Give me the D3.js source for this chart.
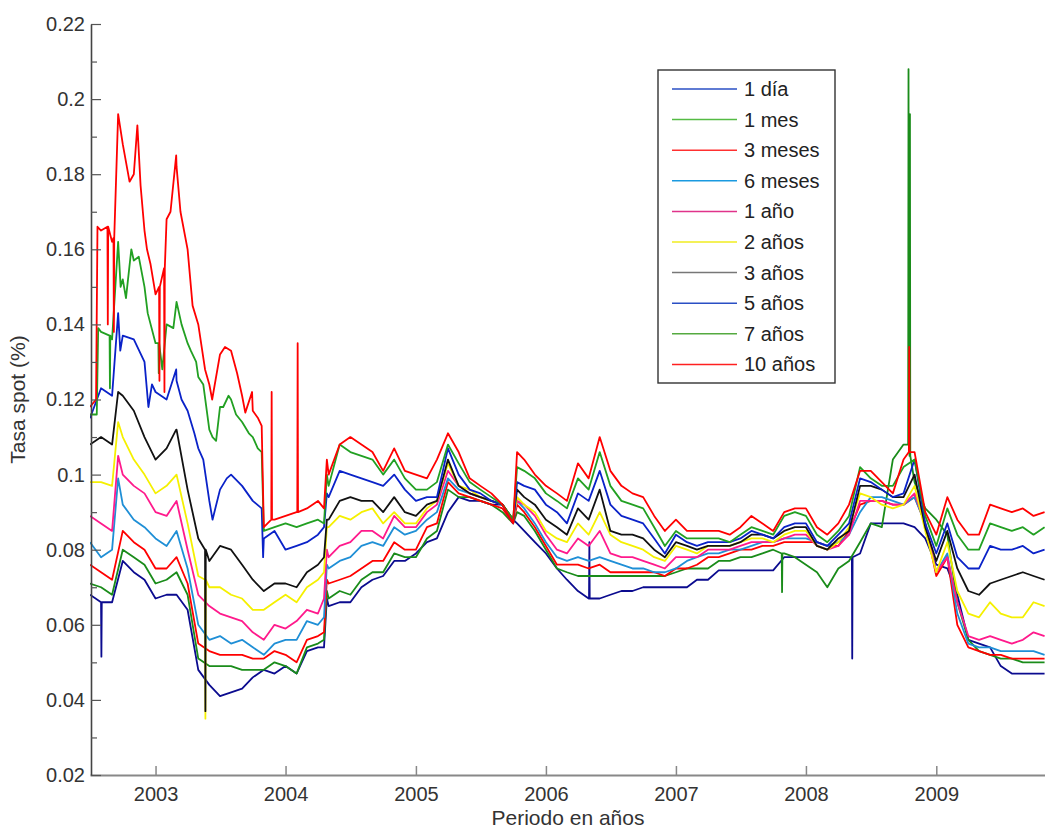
<!DOCTYPE html>
<html lang="es">
<head>
  <meta charset="UTF-8">
  <title>Tasa spot por plazo</title>
  <script src="https://cdnjs.cloudflare.com/ajax/libs/d3/7.8.5/d3.min.js"></script>
  <style>
    body { margin: 0; background: #fff; }
    svg { font-family: "Liberation Sans", Arial, sans-serif; }
    .serie { fill: none; stroke-width: 1.8; stroke-linejoin: round; }
    .axis text { fill: #333; font-size: 20px; }
    .titulo { fill: #333; font-size: 21px; }
    .leyenda text { fill: #222; font-size: 20px; }
  </style>
</head>
<body>
<script>
  // fechas (inicio de cada mes)
  const meses = [
    "2002-07","2002-08","2002-09","2002-10","2002-11","2002-12",
    "2003-01","2003-02","2003-03","2003-04","2003-05","2003-06","2003-07","2003-08","2003-09","2003-10","2003-11","2003-12",
    "2004-01","2004-02","2004-03","2004-04","2004-05","2004-06","2004-07","2004-08","2004-09","2004-10","2004-11","2004-12",
    "2005-01","2005-02","2005-03","2005-04","2005-05","2005-06","2005-07","2005-08","2005-09","2005-10","2005-11","2005-12",
    "2006-01","2006-02","2006-03","2006-04","2006-05","2006-06","2006-07","2006-08","2006-09","2006-10","2006-11","2006-12",
    "2007-01","2007-02","2007-03","2007-04","2007-05","2007-06","2007-07","2007-08","2007-09","2007-10","2007-11","2007-12",
    "2008-01","2008-02","2008-03","2008-04","2008-05","2008-06","2008-07","2008-08","2008-09","2008-10","2008-11","2008-12",
    "2009-01","2009-02","2009-03","2009-04","2009-05","2009-06","2009-07","2009-08","2009-09","2009-10","2009-11"
  ];

  const nombres = ["1 día","1 mes","3 meses","6 meses","1 año","2 años","3 años","5 años","7 años","10 años"];

  const dia1 = [
    0.068,0.066,0.066,0.077,0.074,0.072,0.067,0.068,0.068,0.064,
    0.048,0.044,0.041,0.042,0.043,0.046,0.048,0.047,0.049,0.047,
    0.053,0.054,0.065,0.066,0.066,0.070,0.072,0.073,0.077,0.077,
    0.079,0.082,0.083,0.090,0.094,0.093,0.093,0.092,0.092,0.088,
    0.085,0.082,0.079,0.075,0.072,0.069,0.067,0.067,0.068,0.069,
    0.069,0.070,0.070,0.070,0.070,0.070,0.072,0.072,0.0745,0.0745,
    0.0745,0.0745,0.0745,0.0745,0.078,0.078,0.078,0.078,0.078,0.078,
    0.078,0.079,0.087,0.087,0.087,0.087,0.086,0.083,0.076,0.075,
    0.068,0.056,0.055,0.054,0.049,0.047,0.047,0.047,0.047
  ];
  const mes1 = [
    0.071,0.070,0.068,0.080,0.078,0.076,0.071,0.072,0.074,0.068,
    0.051,0.049,0.049,0.049,0.048,0.048,0.048,0.050,0.049,0.047,
    0.054,0.055,0.067,0.069,0.068,0.072,0.074,0.074,0.079,0.078,
    0.078,0.083,0.085,0.096,0.094,0.094,0.093,0.092,0.090,0.087,
    0.089,0.085,0.080,0.075,0.074,0.073,0.073,0.073,0.073,0.073,
    0.073,0.073,0.073,0.073,0.074,0.075,0.075,0.075,0.077,0.077,
    0.078,0.078,0.079,0.080,0.079,0.078,0.076,0.074,0.070,0.075,
    0.077,0.082,0.087,0.086,0.104,0.108,0.098,0.091,0.088,0.084,
    0.066,0.056,0.053,0.052,0.051,0.051,0.050,0.050,0.050
  ];
  const meses3 = [
    0.076,0.074,0.072,0.085,0.082,0.080,0.075,0.075,0.078,0.071,
    0.055,0.053,0.052,0.052,0.052,0.051,0.051,0.053,0.052,0.050,
    0.056,0.057,0.071,0.072,0.073,0.075,0.077,0.077,0.082,0.080,
    0.080,0.086,0.087,0.098,0.095,0.094,0.093,0.092,0.091,0.087,
    0.090,0.086,0.081,0.076,0.076,0.076,0.075,0.076,0.074,0.074,
    0.074,0.074,0.074,0.073,0.075,0.075,0.076,0.078,0.078,0.079,
    0.080,0.080,0.081,0.081,0.082,0.082,0.082,0.082,0.081,0.081,
    0.085,0.092,0.093,0.093,0.092,0.092,0.094,0.087,0.073,0.078,
    0.060,0.054,0.053,0.052,0.052,0.051,0.051,0.051,0.051
  ];
  const meses6 = [
    0.082,0.078,0.080,0.092,0.088,0.086,0.083,0.081,0.085,0.075,
    0.060,0.056,0.057,0.055,0.056,0.054,0.052,0.055,0.056,0.056,
    0.061,0.060,0.075,0.077,0.078,0.081,0.082,0.081,0.086,0.084,
    0.085,0.088,0.090,0.099,0.096,0.095,0.094,0.093,0.092,0.088,
    0.091,0.087,0.082,0.078,0.077,0.078,0.077,0.078,0.077,0.076,
    0.075,0.075,0.074,0.074,0.075,0.077,0.078,0.079,0.079,0.080,
    0.080,0.081,0.082,0.082,0.083,0.083,0.083,0.082,0.081,0.082,
    0.084,0.090,0.094,0.094,0.093,0.092,0.094,0.087,0.074,0.079,
    0.063,0.055,0.054,0.054,0.053,0.053,0.053,0.053,0.052
  ];
  const anio1 = [
    0.089,0.087,0.085,0.100,0.097,0.095,0.090,0.089,0.093,0.080,
    0.068,0.065,0.063,0.062,0.061,0.058,0.056,0.060,0.059,0.061,
    0.064,0.063,0.078,0.081,0.082,0.085,0.085,0.083,0.089,0.086,
    0.086,0.090,0.092,0.101,0.097,0.095,0.094,0.093,0.092,0.088,
    0.092,0.089,0.084,0.080,0.079,0.083,0.081,0.085,0.079,0.078,
    0.078,0.077,0.076,0.075,0.078,0.078,0.078,0.080,0.080,0.080,
    0.081,0.082,0.082,0.082,0.083,0.084,0.084,0.081,0.080,0.081,
    0.084,0.093,0.093,0.093,0.092,0.092,0.095,0.087,0.074,0.078,
    0.066,0.057,0.056,0.057,0.056,0.055,0.056,0.058,0.057
  ];
  const anios2 = [
    0.098,0.098,0.097,0.110,0.104,0.100,0.095,0.097,0.100,0.087,
    0.073,0.070,0.070,0.068,0.067,0.064,0.064,0.066,0.068,0.066,
    0.070,0.072,0.086,0.089,0.088,0.090,0.091,0.087,0.090,0.087,
    0.087,0.091,0.093,0.103,0.097,0.096,0.094,0.093,0.092,0.088,
    0.092,0.090,0.085,0.083,0.082,0.087,0.084,0.090,0.084,0.082,
    0.081,0.080,0.078,0.077,0.081,0.080,0.079,0.081,0.081,0.081,
    0.082,0.083,0.083,0.082,0.084,0.085,0.085,0.081,0.080,0.082,
    0.086,0.095,0.094,0.092,0.091,0.092,0.097,0.085,0.074,0.082,
    0.069,0.063,0.062,0.066,0.063,0.062,0.062,0.066,0.065
  ];
  const anios3 = [
    0.108,0.110,0.108,0.121,0.117,0.110,0.104,0.107,0.112,0.096,
    0.083,0.077,0.081,0.080,0.076,0.072,0.069,0.071,0.071,0.070,
    0.074,0.076,0.088,0.093,0.094,0.093,0.093,0.090,0.094,0.090,
    0.089,0.092,0.093,0.104,0.097,0.095,0.094,0.093,0.092,0.088,
    0.094,0.092,0.088,0.086,0.084,0.091,0.088,0.096,0.085,0.084,
    0.084,0.083,0.080,0.078,0.082,0.081,0.080,0.081,0.081,0.081,
    0.082,0.084,0.084,0.083,0.085,0.086,0.086,0.081,0.080,0.083,
    0.085,0.097,0.097,0.096,0.094,0.094,0.100,0.086,0.077,0.085,
    0.075,0.069,0.068,0.071,0.072,0.073,0.074,0.073,0.072
  ];
  const anios5 = [
    0.115,0.123,0.121,0.137,0.136,0.130,0.122,0.120,0.125,0.117,
    0.107,0.093,0.096,0.100,0.097,0.093,0.083,0.085,0.080,0.081,
    0.082,0.084,0.094,0.101,0.100,0.099,0.098,0.097,0.100,0.096,
    0.093,0.094,0.094,0.107,0.100,0.096,0.095,0.093,0.092,0.087,
    0.097,0.096,0.092,0.090,0.087,0.095,0.093,0.101,0.092,0.089,
    0.088,0.087,0.083,0.079,0.084,0.082,0.081,0.082,0.082,0.082,
    0.083,0.085,0.084,0.083,0.086,0.087,0.087,0.082,0.081,0.084,
    0.087,0.099,0.098,0.096,0.094,0.095,0.104,0.087,0.079,0.087,
    0.078,0.075,0.075,0.081,0.080,0.080,0.081,0.079,0.080
  ];
  const anios7 = [
    0.116,0.138,0.136,0.152,0.157,0.150,0.135,0.140,0.146,0.135,
    0.126,0.112,0.118,0.120,0.114,0.110,0.085,0.086,0.087,0.086,
    0.087,0.088,0.097,0.108,0.106,0.105,0.104,0.100,0.104,0.099,
    0.096,0.096,0.098,0.108,0.103,0.098,0.096,0.094,0.092,0.088,
    0.101,0.099,0.095,0.093,0.091,0.099,0.096,0.106,0.097,0.093,
    0.092,0.091,0.086,0.081,0.085,0.083,0.083,0.083,0.083,0.082,
    0.084,0.086,0.085,0.084,0.089,0.090,0.089,0.084,0.082,0.085,
    0.089,0.102,0.099,0.097,0.097,0.102,0.104,0.089,0.081,0.091,
    0.084,0.080,0.080,0.087,0.086,0.085,0.086,0.084,0.086
  ];
  const anios10 = [
    0.118,0.165,0.162,0.188,0.180,0.165,0.148,0.168,0.182,0.160,
    0.140,0.124,0.132,0.133,0.121,0.117,0.086,0.088,0.089,0.090,
    0.091,0.093,0.100,0.108,0.110,0.108,0.106,0.101,0.107,0.101,
    0.100,0.099,0.104,0.111,0.106,0.099,0.097,0.095,0.092,0.087,
    0.104,0.100,0.097,0.095,0.093,0.103,0.099,0.110,0.101,0.097,
    0.095,0.094,0.089,0.085,0.088,0.085,0.085,0.085,0.085,0.084,
    0.086,0.089,0.087,0.085,0.090,0.091,0.091,0.086,0.084,0.087,
    0.092,0.101,0.101,0.098,0.095,0.104,0.106,0.090,0.084,0.094,
    0.088,0.084,0.084,0.092,0.091,0.090,0.091,0.089,0.090
  ];

  // lecturas intermedias (entre un mes y el siguiente) en los tramos mas agitados
  const lecturas = [
    {fecha: "2002-07-18", serie: "10 años", valor: 0.120},
    {fecha: "2002-07-22", serie: "10 años", valor: 0.166},
    {fecha: "2002-09-18", serie: "10 años", valor: 0.196},
    {fecha: "2002-10-20", serie: "10 años", valor: 0.178},
    {fecha: "2002-11-11", serie: "10 años", valor: 0.193},
    {fecha: "2002-11-20", serie: "10 años", valor: 0.177},
    {fecha: "2002-12-08", serie: "10 años", valor: 0.160},
    {fecha: "2002-12-18", serie: "10 años", valor: 0.156},
    {fecha: "2003-02-12", serie: "10 años", valor: 0.170},
    {fecha: "2003-02-28", serie: "10 años", valor: 0.185},
    {fecha: "2003-03-12", serie: "10 años", valor: 0.170},
    {fecha: "2003-04-15", serie: "10 años", valor: 0.145},
    {fecha: "2003-05-20", serie: "10 años", valor: 0.128},
    {fecha: "2003-06-09", serie: "10 años", valor: 0.120},
    {fecha: "2003-07-15", serie: "10 años", valor: 0.134},
    {fecha: "2003-08-18", serie: "10 años", valor: 0.127},
    {fecha: "2003-09-10", serie: "10 años", valor: 0.1165},
    {fecha: "2003-09-29", serie: "10 años", valor: 0.122},
    {fecha: "2003-10-16", serie: "10 años", valor: 0.115},
    {fecha: "2003-10-26", serie: "10 años", valor: 0.113},
    {fecha: "2002-07-20", serie: "7 años", valor: 0.116},
    {fecha: "2002-07-24", serie: "7 años", valor: 0.139},
    {fecha: "2002-09-18", serie: "7 años", valor: 0.162},
    {fecha: "2002-09-25", serie: "7 años", valor: 0.150},
    {fecha: "2002-10-10", serie: "7 años", valor: 0.147},
    {fecha: "2002-10-25", serie: "7 años", valor: 0.160},
    {fecha: "2002-11-15", serie: "7 años", valor: 0.158},
    {fecha: "2002-12-10", serie: "7 años", valor: 0.143},
    {fecha: "2003-01-20", serie: "7 años", valor: 0.128},
    {fecha: "2003-02-20", serie: "7 años", valor: 0.139},
    {fecha: "2003-03-15", serie: "7 años", valor: 0.140},
    {fecha: "2003-04-10", serie: "7 años", valor: 0.133},
    {fecha: "2003-04-25", serie: "7 años", valor: 0.130},
    {fecha: "2003-05-15", serie: "7 años", valor: 0.124},
    {fecha: "2003-06-10", serie: "7 años", valor: 0.110},
    {fecha: "2003-06-20", serie: "7 años", valor: 0.109},
    {fecha: "2003-07-10", serie: "7 años", valor: 0.118},
    {fecha: "2003-07-25", serie: "7 años", valor: 0.121},
    {fecha: "2003-08-15", serie: "7 años", valor: 0.116},
    {fecha: "2003-09-20", serie: "7 años", valor: 0.111},
    {fecha: "2003-10-15", serie: "7 años", valor: 0.107},
    {fecha: "2003-10-26", serie: "7 años", valor: 0.106},
    {fecha: "2002-09-18", serie: "5 años", valor: 0.143},
    {fecha: "2002-09-24", serie: "5 años", valor: 0.133},
    {fecha: "2002-12-12", serie: "5 años", valor: 0.118},
    {fecha: "2002-12-22", serie: "5 años", valor: 0.124},
    {fecha: "2003-02-28", serie: "5 años", valor: 0.128},
    {fecha: "2003-03-15", serie: "5 años", valor: 0.120},
    {fecha: "2003-04-20", serie: "5 años", valor: 0.111},
    {fecha: "2003-05-15", serie: "5 años", valor: 0.104},
    {fecha: "2003-06-10", serie: "5 años", valor: 0.088},
    {fecha: "2003-07-20", serie: "5 años", valor: 0.099},
    {fecha: "2003-10-26", serie: "5 años", valor: 0.091},
    {fecha: "2003-10-30", serie: "5 años", valor: 0.078},
    {fecha: "2002-09-18", serie: "3 años", valor: 0.122},
    {fecha: "2003-02-28", serie: "3 años", valor: 0.112},
    {fecha: "2002-09-18", serie: "2 años", valor: 0.114},
    {fecha: "2002-09-18", serie: "1 año", valor: 0.105},
    {fecha: "2002-09-18", serie: "6 meses", valor: 0.099},
    // salto de finales de abril de 2004
    {fecha: "2004-04-18", serie: "10 años", valor: 0.091},
    {fecha: "2004-04-18", serie: "7 años", valor: 0.087},
    {fecha: "2004-04-18", serie: "5 años", valor: 0.086},
    {fecha: "2004-04-18", serie: "3 años", valor: 0.078},
    {fecha: "2004-04-18", serie: "2 años", valor: 0.074},
    {fecha: "2004-04-18", serie: "1 año", valor: 0.067},
    {fecha: "2004-04-18", serie: "6 meses", valor: 0.062},
    {fecha: "2004-04-18", serie: "3 meses", valor: 0.058},
    {fecha: "2004-04-18", serie: "1 mes", valor: 0.056},
    {fecha: "2004-04-18", serie: "1 día", valor: 0.054},
    {fecha: "2004-04-26", serie: "10 años", valor: 0.104},
    {fecha: "2004-04-26", serie: "7 años", valor: 0.100},
    {fecha: "2004-04-26", serie: "5 años", valor: 0.095},
    {fecha: "2004-04-26", serie: "3 años", valor: 0.088},
    {fecha: "2004-04-26", serie: "2 años", valor: 0.086},
    {fecha: "2004-04-26", serie: "1 año", valor: 0.080},
    {fecha: "2004-04-26", serie: "6 meses", valor: 0.076},
    {fecha: "2004-04-26", serie: "3 meses", valor: 0.072},
    {fecha: "2004-04-26", serie: "1 mes", valor: 0.069},
    {fecha: "2004-04-26", serie: "1 día", valor: 0.067},
    // repunte de octubre de 2005
    {fecha: "2005-10-12", serie: "10 años", valor: 0.106},
    {fecha: "2005-10-12", serie: "7 años", valor: 0.102},
    {fecha: "2005-10-12", serie: "5 años", valor: 0.098},
    {fecha: "2005-10-12", serie: "3 años", valor: 0.096},
    {fecha: "2005-10-12", serie: "2 años", valor: 0.094},
    {fecha: "2005-10-12", serie: "1 año", valor: 0.093},
    {fecha: "2005-10-12", serie: "6 meses", valor: 0.093},
    {fecha: "2005-10-12", serie: "3 meses", valor: 0.092},
    {fecha: "2005-10-12", serie: "1 mes", valor: 0.090},
    {fecha: "2005-10-12", serie: "1 día", valor: 0.087}
  ];

  // saltos de un solo dia (fecha, serie, nivel base, nivel del salto)
  const saltos = [
    {fecha: "2002-08-02", serie: "1 día",   base: 0.066, valor: 0.0515},
    {fecha: "2002-08-20", serie: "10 años", base: 0.166, valor: 0.140},
    {fecha: "2002-09-06", serie: "10 años", base: 0.163, valor: 0.138},
    {fecha: "2002-08-26", serie: "7 años",  base: 0.137, valor: 0.123},
    {fecha: "2003-01-12", serie: "10 años", base: 0.150, valor: 0.125},
    {fecha: "2003-01-26", serie: "10 años", base: 0.155, valor: 0.122},
    {fecha: "2003-01-10", serie: "7 años",  base: 0.135, valor: 0.127},
    {fecha: "2003-05-21", serie: "3 años",  base: 0.080, valor: 0.037},
    {fecha: "2003-05-21", serie: "2 años",  base: 0.072, valor: 0.035},
    {fecha: "2003-11-23", serie: "10 años", base: 0.088, valor: 0.122},
    {fecha: "2004-02-04", serie: "10 años", base: 0.090, valor: 0.135},
    {fecha: "2006-05-03", serie: "1 día",   base: 0.067, valor: 0.082},
    {fecha: "2007-10-26", serie: "1 mes",   base: 0.079, valor: 0.0687},
    {fecha: "2008-05-10", serie: "1 día",   base: 0.078, valor: 0.051},
    {fecha: "2008-10-15", serie: "1 mes",   base: 0.108, valor: 0.208},
    {fecha: "2008-10-19", serie: "1 mes",   base: 0.105, valor: 0.196},
    {fecha: "2008-10-17", serie: "10 años", base: 0.106, valor: 0.134}
  ];

  const yTicks = [0.02, 0.04, 0.06, 0.08, 0.1, 0.12, 0.14, 0.16, 0.18, 0.2, 0.22];
  const yMenores = [0.03, 0.05, 0.07, 0.09, 0.11, 0.13, 0.15, 0.17, 0.19, 0.21];

  const valores = [dia1, mes1, meses3, meses6, anio1, anios2, anios3, anios5, anios7, anios10];
  const colores = ["#0b0b8f", "#1a8c1a", "#ff0000", "#1f8fd6", "#ff1a8c",
                   "#f5f000", "#111111", "#0a22c8", "#22a022", "#ff0000"];
  const coloresLeyenda = ["#2a4fc4", "#55bb44", "#ff3030", "#1a9ae0", "#e0338a",
                          "#f0ec20", "#777777", "#2a4fc4", "#55aa40", "#ff2020"];

  const width = 1045, height = 828;
  const margin = {left: 90, right: 1046, top: 24, bottom: 775};

  const parseMes = d3.timeParse("%Y-%m");
  const parseDia = d3.timeParse("%Y-%m-%d");

  const x = d3.scaleTime()
    .domain([new Date(2002, 6, 1), new Date(2009, 10, 5)])
    .range([margin.left, margin.right]);
  const y = d3.scaleLinear().domain([0.02, 0.22]).range([margin.bottom, margin.top]);

  const svg = d3.select("body").append("svg")
    .attr("width", width)
    .attr("height", height);

  svg.append("clipPath").attr("id", "area")
    .append("rect")
    .attr("x", margin.left).attr("y", 0)
    .attr("width", margin.right - margin.left).attr("height", margin.bottom);

  // puntos de cada serie: meses + lecturas intermedias + saltos
  function puntos(k) {
    const pts = meses.map((m, i) => ({fecha: parseMes(m), v: valores[k][i]}));
    lecturas.filter(l => l.serie === nombres[k]).forEach(l => {
      pts.push({fecha: parseDia(l.fecha), v: l.valor});
    });
    saltos.filter(s => s.serie === nombres[k]).forEach(s => {
      const d = parseDia(s.fecha);
      pts.push({fecha: d3.timeDay.offset(d, -1), v: s.base});
      pts.push({fecha: d, v: s.valor});
      pts.push({fecha: d3.timeDay.offset(d, 1), v: s.base});
    });
    return pts.sort((a, b) => a.fecha - b.fecha);
  }

  const linea = d3.line()
    .x(d => x(d.fecha))
    .y(d => y(d.v));

  svg.append("g").attr("clip-path", "url(#area)")
    .selectAll("path")
    .data(nombres)
    .join("path")
    .attr("class", "serie")
    .attr("stroke", (d, k) => colores[k])
    .attr("stroke-width", (d, k) => nombres[k] === "3 años" ? 1.3 : 1.8)
    .attr("d", (d, k) => linea(puntos(k)));

  // ejes
  const ejeX = svg.append("g").attr("class", "axis")
    .attr("transform", `translate(0,${margin.bottom})`)
    .call(d3.axisBottom(x)
      .ticks(d3.timeYear.every(1))
      .tickFormat(d3.timeFormat("%Y"))
      .tickSizeInner(-9).tickSizeOuter(0).tickPadding(12));
  ejeX.select(".domain").attr("stroke", "#888").attr("stroke-width", 2);
  ejeX.selectAll(".tick line").attr("stroke", "#888").attr("stroke-width", 1.5);

  const ejeY = svg.append("g").attr("class", "axis")
    .attr("transform", `translate(${margin.left + 1},0)`)
    .call(d3.axisLeft(y)
      .tickValues(yTicks)
      .tickFormat(d => String(+d.toFixed(2)))
      .tickSizeInner(-10).tickSizeOuter(0).tickPadding(6));
  ejeY.select(".domain").attr("stroke", "#444").attr("stroke-width", 1.6);
  ejeY.selectAll(".tick line").attr("stroke", "#555").attr("stroke-width", 1.2);

  svg.append("g")
    .attr("transform", `translate(${margin.left + 1},0)`)
    .call(d3.axisLeft(y).tickValues(yMenores).tickFormat("")
      .tickSizeInner(-6).tickSizeOuter(0))
    .call(g => g.select(".domain").remove())
    .selectAll(".tick line").attr("stroke", "#555").attr("stroke-width", 1.2);

  svg.append("text").attr("class", "titulo")
    .attr("x", (margin.left + margin.right) / 2).attr("y", 825)
    .attr("text-anchor", "middle")
    .text("Periodo en años");

  svg.append("text").attr("class", "titulo")
    .attr("transform", `translate(25,${(margin.top + margin.bottom) / 2}) rotate(-90)`)
    .attr("text-anchor", "middle")
    .text("Tasa spot (%)");

  // leyenda
  const ley = svg.append("g").attr("class", "leyenda")
    .attr("transform", "translate(658,70)");
  ley.append("rect")
    .attr("width", 177).attr("height", 313)
    .attr("fill", "#fff").attr("stroke", "#333").attr("stroke-width", 1.4);
  const item = ley.selectAll("g.item")
    .data(nombres)
    .join("g").attr("class", "item")
    .attr("transform", (d, i) => `translate(0,${19 + i * 30.6})`);
  item.append("line")
    .attr("x1", 14).attr("x2", 79)
    .attr("stroke", (d, i) => coloresLeyenda[i])
    .attr("stroke-width", 1.5);
  item.append("text")
    .attr("x", 86).attr("dy", "0.35em")
    .text(d => d);
</script>
</body>
</html>
